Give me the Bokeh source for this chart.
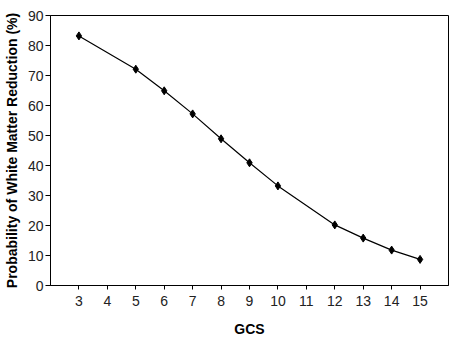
from bokeh.plotting import figure
from bokeh.models import FixedTicker, Range1d
from bokeh.embed import file_html
from bokeh.resources import INLINE

gcs = [3, 5, 6, 7, 8, 9, 10, 12, 13, 14, 15]
prob = [83.2, 72.1, 64.9, 57.2, 48.9, 40.9, 33.2, 20.2, 15.8, 11.8, 8.7]
x_ticks = list(range(3, 16))
y_ticks = list(range(0, 91, 10))

p = figure(width=452, height=339, output_backend="svg", toolbar_location=None,
           x_range=Range1d(2, 16), y_range=Range1d(0, 90),
           min_border_left=50, min_border_right=4, min_border_top=15, min_border_bottom=52)
p.background_fill_color = "white"
p.border_fill_color = "white"
p.outline_line_color = "black"
p.outline_line_width = 1
p.xgrid.visible = False
p.ygrid.visible = False

p.line(gcs, prob, line_color="black", line_width=1.2)
p.scatter(gcs, prob, marker="diamond", size=8, fill_color="black", line_color="black")

for ax in (p.xaxis[0], p.yaxis[0]):
    ax.axis_line_color = "black"
    ax.major_tick_line_color = "black"
    ax.minor_tick_line_color = None
    ax.major_tick_in = 0
    ax.major_label_text_font = "Liberation Sans"
    ax.major_label_text_font_size = "14px"
    ax.major_label_text_color = "#222222"
    ax.axis_label_text_font = "Liberation Sans"
    ax.axis_label_text_font_style = "bold"
    ax.axis_label_text_color = "black"

p.xaxis.ticker = FixedTicker(ticks=x_ticks)
p.yaxis.ticker = FixedTicker(ticks=y_ticks)
p.xaxis.major_tick_out = 4
p.yaxis.major_tick_out = 5
p.xaxis.major_label_standoff = 6
p.yaxis.major_label_standoff = 2
p.xaxis.axis_label = "GCS"
p.xaxis.axis_label_text_font_size = "14px"
p.xaxis.axis_label_standoff = 12
p.yaxis.axis_label = "Probability of White Matter Reduction (%)"
p.yaxis.axis_label_text_font_size = "14px"
p.yaxis.axis_label_standoff = 5

open("out.html", "w").write(file_html(p, INLINE))
